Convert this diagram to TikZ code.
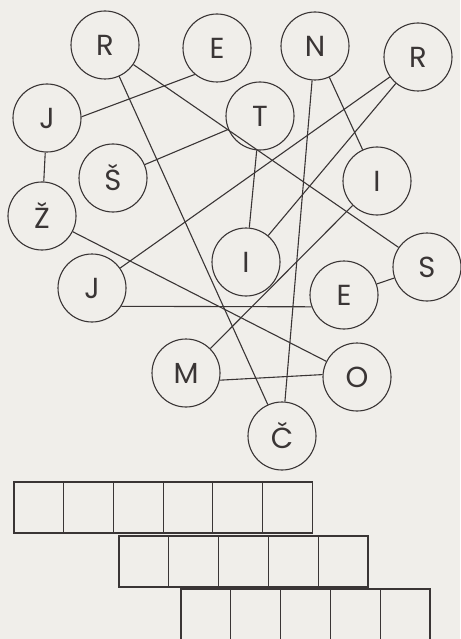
\documentclass[tikz,border=0pt]{standalone}
\usepackage{fontspec}
\usepackage{xcolor}
\newfontfamily\letterfont{Poppins}
\definecolor{inkgray}{HTML}{3A3535}
\definecolor{paper}{HTML}{F0EEEA}

\begin{document}
\begin{tikzpicture}[x=1pt, y=-1pt, line width=1.1pt,
    letter/.style={circle, draw=inkgray, minimum size=68pt, inner sep=0pt,
        font=\letterfont\fontsize{29}{29}\selectfont, text=inkgray},
    link/.style={draw=inkgray}]
    \path[use as bounding box, fill=paper] (0,0) rectangle (460,639);

    % letter circles
    \node (r1) [letter] at (105,45) {R};
    \node (e1) [letter] at (217,48) {E};
    \node (n) [letter] at (315,46) {N};
    \node (r2) [letter] at (418,57) {R};
    \node (j1) [letter] at (47,118) {J};
    \node (t) [letter] at (260,116) {T};
    \node (sh) [letter] at (113,178) {Š};
    \node (i1) [letter] at (377,181) {I};
    \node (zh) [letter] at (42,216) {Ž};
    \node (i2) [letter] at (246,262) {I};
    \node (s) [letter] at (427,267) {S};
    \node (j2) [letter] at (92,288) {J};
    \node (e2) [letter] at (344,295) {E};
    \node (m) [letter] at (186,373) {M};
    \node (o) [letter] at (357,377) {O};
    \node (ch) [letter] at (282,436) {Č};

    % connections
    \draw[link] (j1.2) -- (e1.230);
    \draw[link] (j1) -- (zh);
    \draw[link] (r1) -- (ch);
    \draw[link] (r1) -- (s);
    \draw[link] (sh) -- (t);
    \draw[link] (zh) -- (o);
    \draw[link] (j2) -- (r2);
    \draw[link] (j2.-32) -- (e2.200);
    \draw[link] (i2) -- (r2);
    \draw[link] (t) -- (i2);
    \draw[link] (n) -- (ch);
    \draw[link] (n) -- (i1);
    \draw[link] (e2) -- (s);
    \draw[link] (m.-12) -- (o.176);
    \draw[link] (m) -- (i1);

    % answer boxes
    \foreach \i in {0,...,5}
        \draw[inkgray] (14+\i*49.7,482) rectangle ++(49.7,51);
    \foreach \i in {0,...,4}
        \draw[inkgray] (119+\i*49.8,536) rectangle ++(49.8,51);
    \foreach \i in {0,...,4}
        \draw[inkgray] (181+\i*49.8,589) rectangle ++(49.8,53);
\end{tikzpicture}
\end{document}
